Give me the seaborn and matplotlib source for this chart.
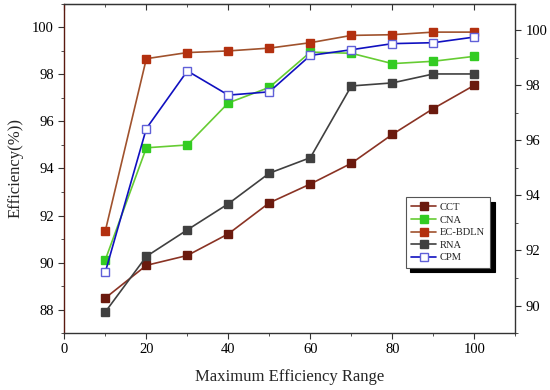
import matplotlib
matplotlib.use("Agg")
import matplotlib.pyplot as plt
import seaborn as sns
import pandas as pd
from matplotlib.ticker import MultipleLocator

# Data
x_range = [10, 20, 30, 40, 50, 60, 70, 80, 90, 100]
cct = [88.49, 89.88, 90.3, 91.22, 92.54, 93.34, 94.22, 95.45, 96.55, 97.54]
cna = [90.12, 94.88, 95.0, 96.79, 97.45, 98.95, 98.9, 98.46, 98.56, 98.77]
ec_bdln = [91.35, 98.67, 98.93, 99.0, 99.12, 99.35, 99.66, 99.69, 99.8, 99.8]
rna = [87.9, 90.26, 91.39, 92.5, 93.8, 94.46, 97.51, 97.64, 98.02, 98.02]
cpm = [89.6, 95.7, 98.15, 97.12, 97.26, 98.81, 99.05, 99.31, 99.35, 99.59]
series_names = ["CCT", "CNA", "EC-BDLN", "RNA", "CPM"]

df = pd.DataFrame({"x": x_range, "CCT": cct, "CNA": cna, "EC-BDLN": ec_bdln,
                   "RNA": rna, "CPM": cpm})

sns.set_style("ticks")
plt.rcParams["font.family"] = ["Liberation Serif", "DejaVu Serif"]

# line colour, marker face, marker edge
styles = {
    "CCT": ("#8a3324", "#6b1a0e", "#6b1a0e"),
    "CNA": ("#66cc33", "#33cc22", "#33cc22"),
    "EC-BDLN": ("#a0522d", "#b3300f", "#b3300f"),
    "RNA": ("#404040", "#404040", "#404040"),
    "CPM": ("#1010c0", "white", "#6060d8"),
}

fig = plt.figure(figsize=(5.5, 3.9), dpi=100)
ax = fig.add_axes([0.117, 0.146, 0.82, 0.844])

for name in series_names:
    lc, fc, ec = styles[name]
    sns.lineplot(data=df, x="x", y=name, ax=ax, color=lc, marker="s",
                 markersize=5.5, markerfacecolor=fc, markeredgecolor=ec,
                 markeredgewidth=1.0, linewidth=1.2, label=name)

ax.set_xlim(0, 110)
ax.set_ylim(87, 101)
ax.xaxis.set_major_locator(MultipleLocator(20))
ax.xaxis.set_minor_locator(MultipleLocator(10))
ax.yaxis.set_major_locator(MultipleLocator(2))
ax.yaxis.set_minor_locator(MultipleLocator(1))
ax.tick_params(which="both", direction="out", labelsize=10.5, colors="#333333")
ax.tick_params(which="major", length=4)
ax.tick_params(which="minor", length=2.5)
for lab in ax.get_xticklabels() + ax.get_yticklabels():
    lab.set_color("black")
ax.set_xlabel("Maximum Efficiency Range", fontsize=12, labelpad=9)
ax.set_ylabel("Efficiency(%))", fontsize=12, labelpad=6)
ax.spines["left"].set_color("#5a1a10")
for s in ["bottom", "top", "right"]:
    ax.spines[s].set_color("#333333")
for s in ax.spines.values():
    s.set_linewidth(1.0)

# top ticks pointing inward, no labels
top = ax.secondary_xaxis("top")
top.xaxis.set_major_locator(MultipleLocator(20))
top.xaxis.set_minor_locator(MultipleLocator(10))
top.tick_params(which="both", direction="in", labeltop=False, colors="#333333")
top.tick_params(which="major", length=4)
top.tick_params(which="minor", length=2.5)

# right axis with its own scale
ax2 = ax.twinx()
ax2.set_ylim(89, 100.95)
ax2.yaxis.set_major_locator(MultipleLocator(2))
ax2.yaxis.set_minor_locator(MultipleLocator(1))
ax2.tick_params(which="both", direction="out", labelsize=10.5, colors="#333333")
ax2.tick_params(which="major", length=4)
ax2.tick_params(which="minor", length=2.5)
for lab in ax2.get_yticklabels():
    lab.set_color("black")
for s in ax2.spines.values():
    s.set_visible(False)

leg = ax.legend(loc="upper left", bbox_to_anchor=(0.745, 0.428), fontsize=7.6,
                frameon=True, fancybox=False,
                shadow={"color": "black", "alpha": 1, "ox": 3.5, "oy": -3.5},
                edgecolor="#555555", handlelength=2.4, handletextpad=0.3,
                labelspacing=0.3, borderpad=0.5)
leg.get_frame().set_linewidth(0.8)

fig.savefig("out.png", dpi=100)
